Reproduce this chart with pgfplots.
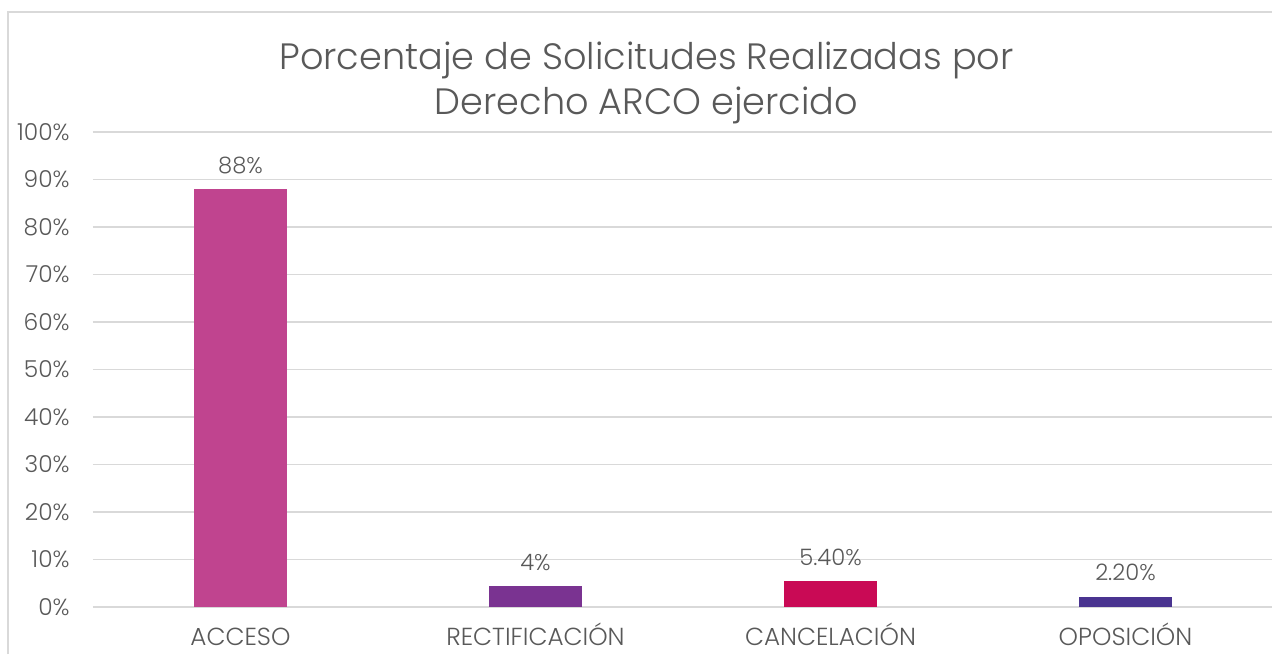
\documentclass[border=0pt]{standalone}
\usepackage{pgfplots}
\pgfplotsset{compat=1.18}
\usepackage{fontspec}
\setmainfont{Poppins}[UprightFont=* Light]

\definecolor{txt}{HTML}{595959}
\definecolor{grd}{HTML}{D9D9D9}
\definecolor{cA}{HTML}{C0448F}
\definecolor{cR}{HTML}{7A3391}
\definecolor{cC}{HTML}{C90A55}
\definecolor{cO}{HTML}{4A3490}

\begin{document}
\begin{tikzpicture}[x=0.75pt,y=0.75pt]
  % bounding box and frame (pixels relative to axis corner at 93,607)
  \useasboundingbox (-93,-47) rectangle (1179,607);
  \draw[grd,line width=1.5pt] (-85,-47) -- (-85,595) -- (1179,595);
  \node[txt,font=\fontsize{27.5}{32}\selectfont] at (553.5,547) {Porcentaje de Solicitudes Realizadas por};
  \node[txt,font=\fontsize{27.5}{32}\selectfont] at (553.5,502) {Derecho ARCO ejercido};
  \begin{axis}[
    at={(0,0)}, anchor=south west,
    scale only axis,
    width=885pt, height=356.25pt,
    xmin=-0.5, xmax=3.5,
    ymin=0, ymax=100,
    axis line style={draw=none},
    tick style={draw=none},
    ytick={0,10,...,100},
    yticklabel={\pgfmathprintnumber{\tick}\%},
    /pgf/number format/assume math mode=true,
    ymajorgrids,
    grid style={grd,line width=1.1pt},
    xtick={0,1,2,3},
    xticklabels={ACCESO,RECTIFICACIÓN,CANCELACIÓN,OPOSICIÓN},
    yticklabel style={txt,font=\fontsize{17.5}{21}\selectfont,xshift=-14pt},
    xticklabel style={txt,font=\fontsize{18.5}{22}\selectfont,anchor=base,yshift=-29pt},
    clip=false,
    nodes near coords,
    point meta=explicit symbolic,
    every node near coord/.append style={txt,font=\fontsize{17}{20}\selectfont,yshift=8pt},
  ]
    \addplot[ybar,bar width=69.75pt,fill=cA,draw=none] table[x=x,y=y,meta=lab] {
x y lab
0 88 88\%
};
    \addplot[ybar,bar width=69.75pt,fill=cR,draw=none] table[x=x,y=y,meta=lab] {
x y lab
1 4.4 4\%
};
    \addplot[ybar,bar width=69.75pt,fill=cC,draw=none] table[x=x,y=y,meta=lab] {
x y lab
2 5.4 5.40\%
};
    \addplot[ybar,bar width=69.75pt,fill=cO,draw=none] table[x=x,y=y,meta=lab] {
x y lab
3 2.2 2.20\%
};
  \end{axis}
\end{tikzpicture}
\end{document}
